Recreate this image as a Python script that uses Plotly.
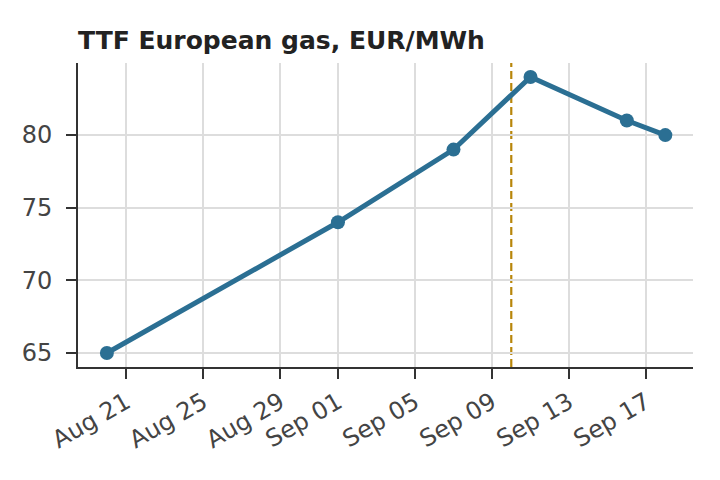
import plotly.graph_objects as go

# TTF price observations
dates = ['2023-08-20', '2023-09-01', '2023-09-07', '2023-09-11', '2023-09-16', '2023-09-18']
prices = [65, 74, 79, 84, 81, 80]

marker_date = '2023-09-10'

tick_dates = ['2023-08-21', '2023-08-25', '2023-08-29', '2023-09-01',
              '2023-09-05', '2023-09-09', '2023-09-13', '2023-09-17']
tick_labels = ['Aug 21', 'Aug 25', 'Aug 29', 'Sep 01', 'Sep 05', 'Sep 09', 'Sep 13', 'Sep 17']

fig = go.Figure()
fig.add_trace(go.Scatter(
    x=dates, y=prices, mode='lines+markers',
    line=dict(color='#2b6f93', width=5),
    marker=dict(color='#2b6f93', size=14),
    showlegend=False,
))

fig.add_shape(type='line', x0=marker_date, x1=marker_date, xref='x', y0=0, y1=1, yref='paper',
              line=dict(color='#b8860b', width=2.2, dash='8px,4px'), layer='between')

fig.update_layout(
    width=720, height=480,
    margin=dict(l=70, r=35, t=55, b=121),
    paper_bgcolor='white', plot_bgcolor='white',
    font=dict(family='DejaVu Sans', color='#444444', size=24),
    title=dict(text='<b>TTF European gas, EUR/MWh</b>', x=70/720, xanchor='left',
               y=1 - 32/480, yanchor='middle',
               font=dict(size=25, color='#222222')),
)
fig.update_xaxes(
    range=['2023-08-18 12:00', '2023-09-19 10:30'],
    tickvals=tick_dates, ticktext=tick_labels, tickangle=-30,
    showgrid=True, gridcolor='#dddddd', gridwidth=1.5,
    showline=True, linecolor='#333333', linewidth=2,
    ticks='outside', ticklen=10, tickwidth=2, tickcolor='#333333',
    zeroline=False,
)
fig.update_yaxes(
    range=[64.04, 84.96],
    tickvals=[65, 70, 75, 80],
    showgrid=True, gridcolor='#dddddd', gridwidth=1.5,
    showline=True, linecolor='#333333', linewidth=2,
    ticks='outside', ticklen=10, tickwidth=2, tickcolor='#333333',
    ticklabelstandoff=9,
    zeroline=False,
)

fig.write_html('out.html')
